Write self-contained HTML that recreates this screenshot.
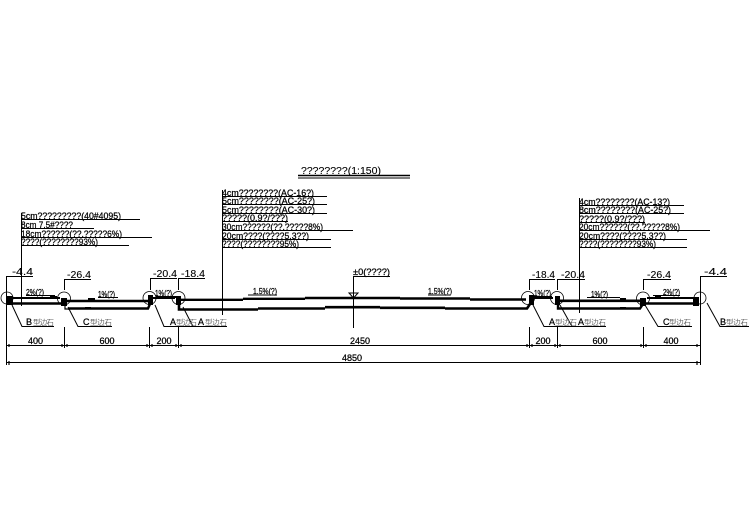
<!DOCTYPE html>
<html><head><meta charset="utf-8"><style>
html,body{margin:0;padding:0;background:#fff;width:749px;height:530px;overflow:hidden}
svg{display:block}
text{font-family:"Liberation Sans","Noto Sans CJK SC",sans-serif;font-size:9px;fill:#000;stroke:#000;stroke-width:.25}
.g{fill:#666;stroke:none;font-size:7.5px}
.e{font-size:10px;stroke-width:.1}
.s{font-size:8px}
</style></head><body>
<svg width="749" height="530" viewBox="0 0 749 530" xmlns="http://www.w3.org/2000/svg">
<rect width="749" height="530" fill="#fff"/>
<!-- title -->
<text x="301" y="174" textLength="80" lengthAdjust="spacingAndGlyphs" style="font-size:10px;stroke-width:.1">????????(1:150)</text>
<path d="M298 175.5H410" stroke="#000" stroke-width="1.6"/><path d="M298 178H410" stroke="#000" stroke-width="1"/>
<!-- tables -->
<g stroke="#000" stroke-width="1" fill="none">
<path d="M21.5 213V306M21 219.5H140M21 228.5H94M21 237.5H152M21 245.5H129"/>
<path d="M222.5 190V315M222 196.5H327M222 204.5H327M222 213.5H327M222 221.5H288M222 230.5H353M222 239.5H331M222 247.5H331"/>
<path d="M579.5 198V313M579 205.5H684M579 213.5H684M579 222.5H645M579 230.5H710M579 239.5H687M579 247.5H687"/>
</g>
<g>
<text x="21" y="219" textLength="100" lengthAdjust="spacingAndGlyphs">5cm?????????(40#4095)</text>
<text x="21" y="228" textLength="52" lengthAdjust="spacingAndGlyphs">8cm 7.5#????</text>
<text x="21" y="237" textLength="101" lengthAdjust="spacingAndGlyphs">18cm??????(??.?????6%)</text>
<text x="21" y="245" textLength="77" lengthAdjust="spacingAndGlyphs">????(????????93%)</text>
<text x="222" y="196" textLength="92" lengthAdjust="spacingAndGlyphs">4cm????????(AC-16?)</text>
<text x="222" y="204" textLength="93" lengthAdjust="spacingAndGlyphs">5cm????????(AC-25?)</text>
<text x="222" y="213" textLength="93" lengthAdjust="spacingAndGlyphs">5cm????????(AC-30?)</text>
<text x="222" y="221" textLength="66" lengthAdjust="spacingAndGlyphs">?????(0.9?/???)</text>
<text x="222" y="230" textLength="101" lengthAdjust="spacingAndGlyphs">30cm??????(??.?????8%)</text>
<text x="222" y="239" textLength="87" lengthAdjust="spacingAndGlyphs">20cm????(????5.3??)</text>
<text x="222" y="247" textLength="77" lengthAdjust="spacingAndGlyphs">????(????????95%)</text>
<text x="579" y="205" textLength="91" lengthAdjust="spacingAndGlyphs">4cm????????(AC-13?)</text>
<text x="579" y="213" textLength="92" lengthAdjust="spacingAndGlyphs">8cm????????(AC-25?)</text>
<text x="579" y="222" textLength="66" lengthAdjust="spacingAndGlyphs">?????(0.9?/???)</text>
<text x="579" y="230" textLength="101" lengthAdjust="spacingAndGlyphs">20cm??????(??.?????8%)</text>
<text x="579" y="239" textLength="87" lengthAdjust="spacingAndGlyphs">20cm????(????5.3??)</text>
<text x="579" y="247" textLength="77" lengthAdjust="spacingAndGlyphs">????(????????93%)</text>
</g>
<!-- road structure -->
<g fill="none" stroke="#000">
<path d="M13 298H60" stroke-width="2"/>
<path d="M13 303.5H62" stroke-width="2.6"/>
<path d="M62 301H149" stroke-width="2.6"/>
<path d="M68 308.5H148L150 304" stroke-width="2.4"/>
<path d="M65 303V309H69" stroke-width="1.2"/>
<path d="M152 298H175" stroke-width="2"/>
<path d="M178 299.8H243M243 298.8H305M305 298H400M400 298.5H470M470 299.5H526" stroke-width="2.4"/>
<path d="M179 303V309.5H258M258 308.5H325M325 307.2H380M380 307.8H445M445 308.5H527L530 304" stroke-width="2.6"/>
<path d="M532 298H553" stroke-width="2"/>
<path d="M560 300.8H642" stroke-width="2.6"/>
<path d="M558 303V308.5H640L643 304" stroke-width="2.4"/>
<path d="M647 298H695" stroke-width="2"/>
<path d="M645 303.5H698" stroke-width="2.6"/>
</g>
<g fill="#000">
<rect x="7" y="296" width="6" height="9"/><rect x="61" y="298" width="6" height="8"/><rect x="148" y="295" width="5" height="10"/><rect x="176" y="296" width="5" height="9"/><rect x="529" y="295" width="5" height="10"/><rect x="555" y="296" width="5" height="9"/><rect x="640" y="298" width="6" height="8"/><rect x="693" y="297" width="6" height="9"/>
<rect x="50" y="296" width="7" height="2"/><rect x="88" y="298" width="7" height="3"/><rect x="85" y="307" width="6" height="2"/><rect x="170" y="296" width="6" height="2"/><rect x="620" y="298" width="6" height="3"/><rect x="620" y="307" width="6" height="2"/><rect x="655" y="295" width="6" height="3"/>
</g>
<!-- curb circles -->
<g fill="none" stroke="#000" stroke-width=".8">
<circle cx="7" cy="298" r="6"/><circle cx="64" cy="298.5" r="6.5"/><circle cx="149.5" cy="298" r="6.5"/><circle cx="178.5" cy="298" r="6.5"/>
<circle cx="528" cy="298" r="6.5"/><circle cx="557" cy="298" r="6.5"/><circle cx="643" cy="298.5" r="6.5"/><circle cx="700" cy="298" r="6"/>
</g>
<!-- elevation markers -->
<g fill="none" stroke="#000" stroke-width="1">
<path d="M6.5 365V276.5H33"/>
<path d="M64.5 290V279.5H91"/><path d="M150.5 290V278.5H177"/><path d="M178.5 290V278.5H205"/>
<path d="M529.5 290V279.5H555"/><path d="M557.5 290V279.5H585"/><path d="M643.5 290V279.5H671"/>
<path d="M700.5 365V276.5H727"/>
<path d="M64.5 327V348M149.5 327V348M178.5 327V348M529.5 327V348M557.5 327V348M643.5 327V348"/>
<path d="M7 345.5H700M7 362.5H700"/>
<path d="M353.5 276V328M353.5 276.5H390"/>
<path d="M349 293H358L353.5 298Z"/>
<!-- slope underlines -->
<path d="M26 295.5H55M98 297.5H118M156 296.5H172M248 295H277M428 295H450M534 296.5H552M587 297.5H620M653 295.5H680"/>
<!-- leaders -->
<path d="M12 305L22 326.5H54"/><path d="M68 307L78 326.5H112"/><path d="M155 305L164 326.5H197"/><path d="M183 307L193 326.5H227"/>
<path d="M533 305L544 326.5H578"/><path d="M560 305L572 326.5H606"/><path d="M645 305L658 326.5H692"/><path d="M707 303L720 326.5H749"/>
</g>
<!-- ticks -->
<g stroke="#000" stroke-width="1.2">
<path d="M9 344V347M62 344V347M67 344V347M147 344V347M152 344V347M176 344V347M181 344V347M527 344V347M532 344V347M555 344V347M560 344V347M641 344V347M646 344V347M697 344V347M9 361V365M697 361V365"/>
</g>
<!-- elevation labels -->
<g>
<text class="e" x="12" y="275" textLength="21" lengthAdjust="spacingAndGlyphs">-4.4</text>
<text class="e" x="67" y="278" textLength="24" lengthAdjust="spacingAndGlyphs">-26.4</text>
<text class="e" x="153" y="277" textLength="24" lengthAdjust="spacingAndGlyphs">-20.4</text>
<text class="e" x="181" y="277" textLength="24" lengthAdjust="spacingAndGlyphs">-18.4</text>
<text class="e" x="532" y="278" textLength="23" lengthAdjust="spacingAndGlyphs">-18.4</text>
<text class="e" x="561" y="278" textLength="24" lengthAdjust="spacingAndGlyphs">-20.4</text>
<text class="e" x="647" y="278" textLength="24" lengthAdjust="spacingAndGlyphs">-26.4</text>
<text class="e" x="704" y="275" textLength="23" lengthAdjust="spacingAndGlyphs">-4.4</text>
<text x="353" y="275" textLength="37" lengthAdjust="spacingAndGlyphs">±0(????)</text>
</g>
<!-- slope labels -->
<g>
<text class="s" x="26" y="295" textLength="18" lengthAdjust="spacingAndGlyphs">2%(?)</text>
<text class="s" x="98" y="297" textLength="17" lengthAdjust="spacingAndGlyphs">1%(?)</text>
<text class="s" x="155" y="296" textLength="17" lengthAdjust="spacingAndGlyphs">1%(?)</text>
<text class="s" x="253" y="294" textLength="24" lengthAdjust="spacingAndGlyphs">1.5%(?)</text>
<text class="s" x="428" y="294" textLength="24" lengthAdjust="spacingAndGlyphs">1.5%(?)</text>
<text class="s" x="534" y="296" textLength="17" lengthAdjust="spacingAndGlyphs">1%(?)</text>
<text class="s" x="591" y="297" textLength="17" lengthAdjust="spacingAndGlyphs">1%(?)</text>
<text class="s" x="663" y="295" textLength="17" lengthAdjust="spacingAndGlyphs">2%(?)</text>
</g>
<!-- curb labels -->
<g>
<text x="26" y="325">B</text><text class="g" x="33" y="325" textLength="21">型边石</text>
<text x="83" y="325">C</text><text class="g" x="90" y="325" textLength="22">型边石</text>
<text x="170" y="325">A</text><text class="g" x="176" y="325" textLength="21">型边石</text>
<text x="198" y="325">A</text><text class="g" x="205" y="325" textLength="22">型边石</text>
<text x="549" y="325">A</text><text class="g" x="555" y="325" textLength="22">型边石</text>
<text x="578" y="325">A</text><text class="g" x="584" y="325" textLength="22">型边石</text>
<text x="663" y="325">C</text><text class="g" x="669" y="325" textLength="22">型边石</text>
<text x="720" y="325">B</text><text class="g" x="726" y="325" textLength="22">型边石</text>
</g>
<!-- dimensions -->
<g text-anchor="middle">
<text x="35.5" y="344">400</text><text x="107" y="344">600</text><text x="164" y="344">200</text><text x="360" y="344">2450</text>
<text x="543" y="344">200</text><text x="600" y="344">600</text><text x="671" y="344">400</text><text x="352" y="361">4850</text>
</g>
</svg>
</body></html>
